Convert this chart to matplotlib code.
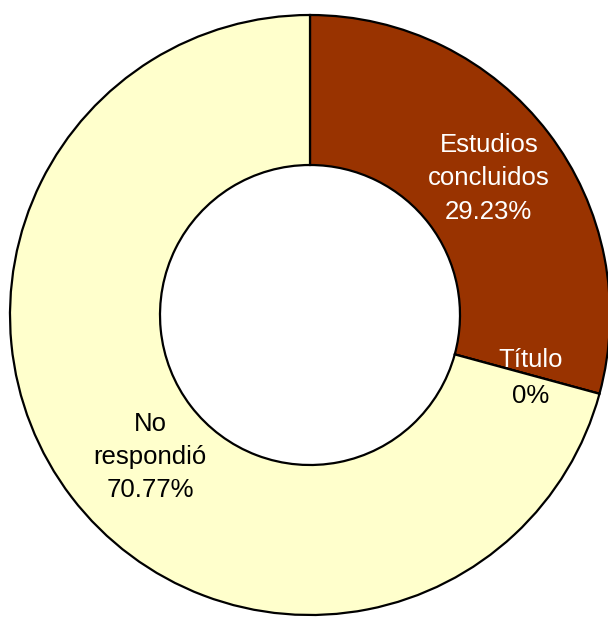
import matplotlib

matplotlib.use("Agg")

import matplotlib.pyplot as plt
import numpy as np

plt.rcParams["font.family"] = ["Liberation Sans", "DejaVu Sans"]

labels = ["Estudios\nconcluidos", "Título", "No\nrespondió"]
values = [29.23, 0.0, 70.77]
colors = ["#993300", "#FFFFFF", "#FFFFCC"]
pct_text = ["29.23%", "0%", "70.77%"]

W, H = 608, 617
fig = plt.figure(figsize=(W / 100, H / 100), dpi=100)
# circle centre at (310, 315) px, radius 300 px
cx, cy, r = 310, 315, 300
ax = fig.add_axes([(cx - r) / W, (H - cy - r) / H, 2 * r / W, 2 * r / H])
ax.set_axis_off()

wedges, _ = ax.pie(
    values,
    colors=colors,
    startangle=90,
    counterclock=False,
    radius=1.0,
    wedgeprops=dict(width=0.5, edgecolor="black", linewidth=1.6),
)
for w in wedges:
    w.set_clip_on(False)
ax.set_xlim(-1, 1)
ax.set_ylim(-1, 1)

total = sum(values)
start = 90.0
dists = [0.75, 0.74, 0.72]
nudges = [(0.0, 0.0), (0.02, 0.0), (0.04, -0.035)]
fs = 18.5
for lab, val, pct, d, (nx, ny) in zip(labels, values, pct_text, dists, nudges):
    sweep = 360.0 * val / total
    mid = np.deg2rad(start - sweep / 2)
    x, y = d * np.cos(mid) + nx, d * np.sin(mid) + ny
    if val == 0:
        ax.text(x, y + 0.005, lab, color="white", ha="center", va="bottom", fontsize=fs)
        ax.text(x, y - 0.035, pct, color="black", ha="center", va="top", fontsize=fs)
    else:
        col = "white" if val < 50 else "black"
        ax.text(x, y, lab + "\n" + pct, color=col, ha="center", va="center",
                fontsize=fs, linespacing=1.48)
    start -= sweep

fig.savefig("out.png", dpi=100)
